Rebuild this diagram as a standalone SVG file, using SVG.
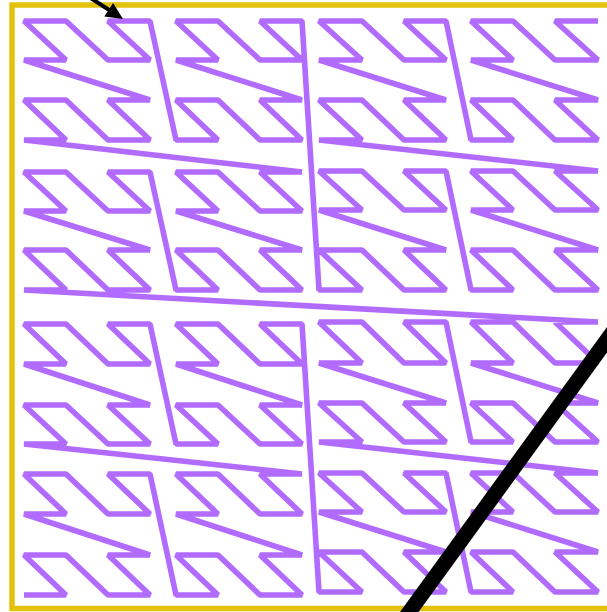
<svg xmlns="http://www.w3.org/2000/svg" width="607" height="612" viewBox="0 0 607 612">
<style>
.frame{fill:none;stroke:#e3c20e;stroke-width:5.5}
.curve{fill:none;stroke:#b26bff;stroke-width:5.6;stroke-linejoin:bevel;stroke-linecap:butt}
.pointer{stroke:#000;fill:none}
</style>
<rect width="607" height="612" fill="#fff"/>
<g id="frame"><rect class="frame" x="12" y="5" width="620" height="603.5"/></g>
<g id="connectors">
<path id="zcurve" class="curve" d="M24,595 L66,595 24,555 66,555 108,595 150,595 108,555 150,555 24,514 66,514 24,474 66,474 108,514 150,514 108,474 150,474
176,595 218,595 176,555 218,555 260,595 302,595 260,555 302,555 176,514 218,514 176,474 218,474 260,514 302,514 260,474 302,474
24,444 66,444 24,405 66,405 108,444 150,444 108,405 150,405 24,364 66,364 24,324 66,324 108,364 150,364 108,324 150,324
176,444 218,444 176,405 218,405 260,444 302,444 260,405 302,405 176,364 218,364 176,324 218,324 260,364 302,364 260,324 302,324
319,592 362,592 319,552 362,552 404,592 446,592 404,552 446,552 319,512 362,512 319,473 362,473 404,512 446,512 404,473 446,473
471,592 513,592 471,552 513,552 555,592 598,592 555,552 598,552 471,512 513,512 471,473 513,473 555,512 598,512 555,473 598,473
319,442 362,442 319,403 362,403 404,442 446,442 404,403 446,403 319,363 362,363 319,322 362,322 404,363 446,363 404,322 446,322
471,442 513,442 471,403 513,403 555,442 598,442 555,403 598,403 471,363 513,363 471,322 513,322 555,363 598,363 555,322 598,322
24,290 66,290 24,250 66,250 108,290 150,290 108,250 150,250 24,211 66,211 24,172 66,172 108,211 150,211 108,172 150,172
176,290 218,290 176,250 218,250 260,290 302,290 260,250 302,250 176,211 218,211 176,172 218,172 260,211 302,211 260,172 302,172
24,140 66,140 24,100 66,100 108,140 150,140 108,100 150,100 24,60 66,60 24,21 66,21 108,60 150,60 108,21 150,21
176,140 218,140 176,100 218,100 260,140 302,140 260,100 302,100 176,60 218,60 176,21 218,21 260,60 302,60 260,21 302,21
319,290 362,290 319,250 362,250 404,290 446,290 404,250 446,250 319,210 362,210 319,171 362,171 404,210 446,210 404,171 446,171
471,290 513,290 471,250 513,250 555,290 598,290 555,250 598,250 471,210 513,210 471,171 513,171 555,210 598,210 555,171 598,171
319,140 362,140 319,100 362,100 404,140 446,140 404,100 446,100 319,60 362,60 319,21 362,21 404,60 446,60 404,21 446,21
471,140 513,140 471,100 513,100 555,140 598,140 555,100 598,100 471,60 513,60 471,21 513,21 555,60 598,60 555,21 598,21"/>
</g>
<g id="start-arrow">
<line class="pointer" x1="75" y1="-12" x2="110" y2="10.5" stroke-width="4"/>
<polygon points="123,19 104.3,16.4 113.1,3" fill="#000"/>
</g>
<g id="slash">
<line class="pointer" x1="402" y1="622" x2="625" y2="315" stroke-width="15"/>
</g>
</svg>
